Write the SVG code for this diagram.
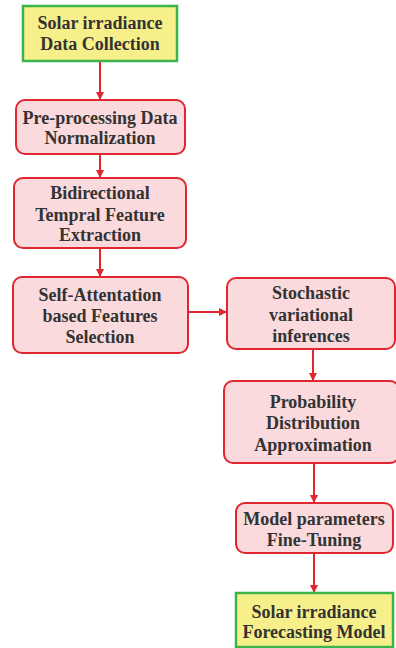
<svg xmlns="http://www.w3.org/2000/svg" width="396" height="648" viewBox="0 0 396 648">
<style>
.p{fill:#fadadd;stroke:#e0262e;stroke-width:2}
.y{fill:#f7f08a;stroke:#3cb44b;stroke-width:2.5}
text{font-family:"Liberation Serif","Times New Roman",serif;font-weight:bold;font-size:18px;fill:#333;text-anchor:middle}
.c{stroke:#e0262e;stroke-width:2;fill:none}
</style>
<defs>
<marker id="a" markerWidth="8" markerHeight="8" refX="7" refY="4" orient="auto" markerUnits="userSpaceOnUse">
<path d="M0,0 L8,4 L0,8 Z" fill="#e0262e"/>
</marker>
</defs>
<rect width="396" height="648" fill="#fff"/>
<g id="connectors">
<line class="c" x1="100" y1="61" x2="100" y2="99" marker-end="url(#a)"/>
<line class="c" x1="100" y1="154" x2="100" y2="177" marker-end="url(#a)"/>
<line class="c" x1="100" y1="248" x2="100" y2="276" marker-end="url(#a)"/>
<line class="c" x1="188" y1="312" x2="226" y2="312" marker-end="url(#a)"/>
<line class="c" x1="313" y1="349" x2="313" y2="380" marker-end="url(#a)"/>
<line class="c" x1="314" y1="463" x2="314" y2="502" marker-end="url(#a)"/>
<line class="c" x1="314" y1="553" x2="314" y2="592" marker-end="url(#a)"/>
</g>
<g id="n1">
<rect class="y" x="23" y="6" width="154" height="55"/>
<text x="100" y="29">Solar irradiance</text>
<text x="100" y="50">Data Collection</text>
</g>
<g id="n2">
<rect class="p" x="16" y="100" width="169" height="54" rx="9"/>
<text x="100" y="124">Pre-processing Data</text>
<text x="100" y="144">Normalization</text>
</g>
<g id="n3">
<rect class="p" x="14" y="178" width="172" height="70" rx="9"/>
<text x="100" y="199">Bidirectional</text>
<text x="100" y="221">Tempral Feature</text>
<text x="100" y="241">Extraction</text>
</g>
<g id="n4">
<rect class="p" x="13" y="277" width="175" height="76" rx="9"/>
<text x="100" y="301">Self-Attentation</text>
<text x="100" y="322">based Features</text>
<text x="100" y="343">Selection</text>
</g>
<g id="n5">
<rect class="p" x="227" y="278" width="168" height="71" rx="9"/>
<text x="311" y="299">Stochastic</text>
<text x="311" y="321">variational</text>
<text x="311" y="342">inferences</text>
</g>
<g id="n6">
<rect class="p" x="224" y="381" width="175" height="82" rx="9"/>
<text x="313" y="408">Probability</text>
<text x="313" y="429">Distribution</text>
<text x="313" y="451">Approximation</text>
</g>
<g id="n7">
<rect class="p" x="236" y="503" width="157" height="50" rx="9"/>
<text x="314" y="525">Model parameters</text>
<text x="314" y="546">Fine-Tuning</text>
</g>
<g id="n8">
<rect class="y" x="236" y="593" width="157" height="54"/>
<text x="314" y="618">Solar irradiance</text>
<text x="314" y="638">Forecasting Model</text>
</g>
</svg>
